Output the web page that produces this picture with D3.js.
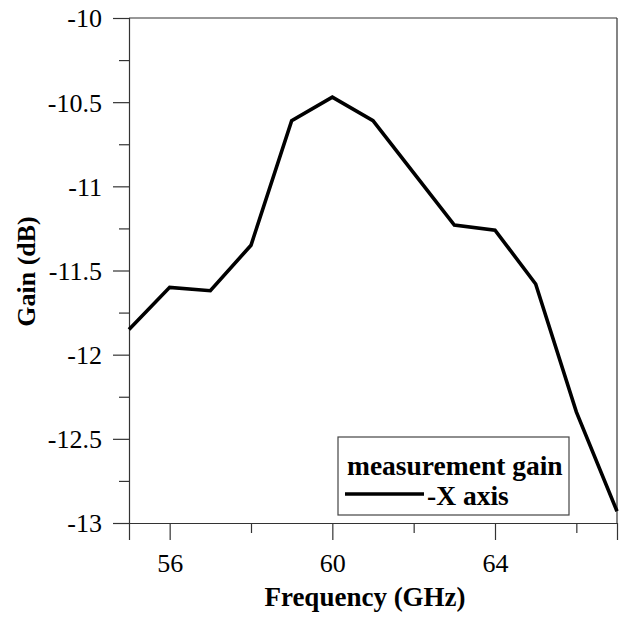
<!DOCTYPE html>
<html>
<head>
<meta charset="utf-8">
<script src="https://cdn.jsdelivr.net/npm/d3@7"></script>
<style>
  body { margin: 0; background: #fff; }
  svg { display: block; }
  svg text { font-family: "Liberation Serif", "Times New Roman", Times, serif; }
</style>
</head>
<body>
<div id="chart"></div>
<script>
// measured gain along -X axis
const freqs = [55, 56, 57, 58, 59, 60, 61, 62, 63, 64, 65, 66, 67];
const gains = [-11.85, -11.60, -11.62, -11.35, -10.61, -10.47, -10.61, -10.92, -11.23, -11.26, -11.58, -12.34, -12.93];
const xMajorTicks = [56, 60, 64];
const xMinorTicks = [58, 62, 66];
const yMajorTicks = [-10, -10.5, -11, -11.5, -12, -12.5, -13];
const yMinorTicks = [-10.25, -10.75, -11.25, -11.75, -12.25, -12.75];
const legendTitle = "measurement gain";
const legendLabel = "-X axis";

const W = 621, H = 619;
const margin = {top: 18, right: 4, bottom: 96, left: 129};
const width = W - margin.left - margin.right;
const height = H - margin.top - margin.bottom;

const svg = d3.select("#chart").append("svg")
    .attr("width", W)
    .attr("height", H);

const g = svg.append("g")
    .attr("transform", `translate(${margin.left},${margin.top})`);

const x = d3.scaleLinear().domain([55, 67]).range([0, width]);
const y = d3.scaleLinear().domain([-13, -10]).range([height, 0]);

const axisColor = "#333";
const plain = d => String(d); // hyphen-minus like the original, not the unicode minus

// x axis, major + minor ticks
const xAxis = g.append("g").attr("transform", `translate(0,${height})`)
    .call(d3.axisBottom(x).tickValues(xMajorTicks).tickSize(17).tickPadding(14).tickFormat(plain));
g.append("g").attr("transform", `translate(0,${height})`)
    .call(d3.axisBottom(x).tickValues(xMinorTicks).tickSize(10).tickFormat(""))
    .select(".domain").remove();

// y axis
const yAxis = g.append("g")
    .call(d3.axisLeft(y).tickValues(yMajorTicks).tickSize(16).tickPadding(11).tickFormat(plain));
g.append("g")
    .call(d3.axisLeft(y).tickValues(yMinorTicks).tickSize(10).tickFormat(""))
    .select(".domain").remove();

g.selectAll("g").attr("font-family", null).attr("font-size", null);
g.selectAll(".tick line, .domain").attr("stroke", axisColor).attr("stroke-width", 1.2);
g.selectAll(".tick text").attr("fill", "#000").style("font-size", "26px");
yAxis.selectAll(".tick text").attr("dy", "0.34em");

// top and right frame
g.append("line").attr("x1", 0).attr("x2", width).attr("y1", 0).attr("y2", 0)
    .attr("stroke", axisColor).attr("stroke-width", 1.2);
g.append("line").attr("x1", width).attr("x2", width).attr("y1", 0).attr("y2", height)
    .attr("stroke", axisColor).attr("stroke-width", 1.2);

// data line
const line = d3.line().x((d, i) => x(freqs[i])).y(d => y(d));
g.append("path")
    .datum(gains)
    .attr("fill", "none")
    .attr("stroke", "#000")
    .attr("stroke-width", 3.6)
    .attr("stroke-linejoin", "miter")
    .attr("d", line);

// axis titles
svg.append("text")
    .attr("x", 365)
    .attr("y", 606)
    .attr("text-anchor", "middle")
    .style("font-size", "27px").style("font-weight", "bold")
    .text("Frequency (GHz)");

svg.append("text")
    .attr("transform", `translate(35,${margin.top + height / 2 + 1}) rotate(-90)`)
    .attr("text-anchor", "middle")
    .style("font-size", "26px").style("font-weight", "bold")
    .text("Gain (dB)");

// legend
const leg = svg.append("g").attr("transform", "translate(338,437)");
leg.append("rect").attr("width", 231).attr("height", 78)
    .attr("fill", "#fff").attr("stroke", "#444").attr("stroke-width", 1.2);
leg.append("text").attr("x", 9).attr("y", 38)
    .style("font-size", "27.5px").style("font-weight", "bold")
    .text(legendTitle);
leg.append("line").attr("x1", 7).attr("x2", 86).attr("y1", 57).attr("y2", 57)
    .attr("stroke", "#000").attr("stroke-width", 3.6);
leg.append("text").attr("x", 89).attr("y", 68)
    .style("font-size", "27.5px").style("font-weight", "bold")
    .text(legendLabel);
</script>
</body>
</html>
